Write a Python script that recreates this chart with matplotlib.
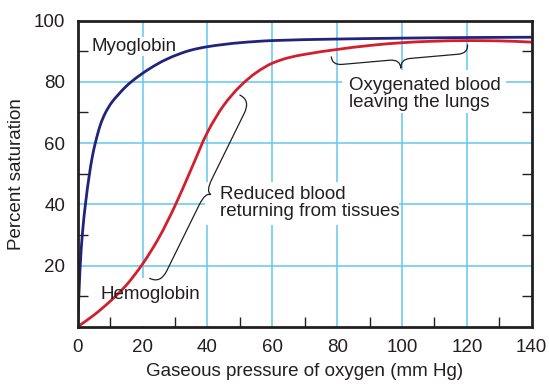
import numpy as np
import matplotlib
matplotlib.use("Agg")
import matplotlib.pyplot as plt
from matplotlib.path import Path
from matplotlib.patches import PathPatch, Rectangle

plt.rcParams['font.family'] = ['Liberation Sans', 'DejaVu Sans']

# Oxygen dissociation curves (partial pressure in mm Hg -> % saturation)
myo_po2 = [0, 0.7, 1.5, 2.5, 3.5, 4.5, 5.5, 7, 8.5, 10.5, 12.5, 14.5, 16.6, 20,
           22, 25, 27, 31.5, 35, 40, 50, 60, 80, 100, 120, 140]
myo_sat = [0, 18.5, 31, 41, 49, 55.5, 60.3, 66, 69.8, 73.3, 75.8, 78.1, 80.1, 82.8,
           84.2, 86.1, 87.2, 89.2, 90.4, 91.5, 92.8, 93.5, 94.0, 94.3, 94.5, 94.6]

hb_po2 = [0, 5, 10, 15, 20, 25, 30, 35, 40, 45, 50, 55, 60, 65, 70, 80, 90, 100,
          110, 120, 130, 140]
hb_sat = [0, 3.8, 8.3, 13.6, 20.5, 29, 39.5, 51.5, 63.5, 72.3, 78.5, 83, 86.1, 87.9,
          89.0, 90.6, 91.9, 92.8, 93.3, 93.5, 93.4, 93.0]

x_major = [0, 20, 40, 60, 80, 100, 120, 140]
x_minor = [10, 30, 50, 70, 90, 110, 130]
y_major = [20, 40, 60, 80, 100]
y_minor = [10, 30, 50, 70, 90]

INK = '#231f20'
GRID = '#62c8f0'
BLUE = '#22237a'
RED = '#d21f2b'
FS = 13.5

fig = plt.figure(figsize=(5.49, 3.84), dpi=100)
W, H = 549, 384
L, R, T, B = 77.7, 531.7, 20.7, 326.7
ax = fig.add_axes([L / W, (H - B) / H, (R - L) / W, (B - T) / H])
ax.set_xlim(0, 140)
ax.set_ylim(0, 100)

# grid
for gx in [20, 40, 60, 80, 100, 120]:
    ax.axvline(gx, color=GRID, lw=1.1, zorder=0.5)
for gy in [20, 40, 60, 80]:
    ax.axhline(gy, color=GRID, lw=1.1, zorder=0.5)

# ticks
ax.set_xticks(x_major)
ax.set_xticks(x_minor, minor=True)
ax.set_yticks(y_major)
ax.set_yticks(y_minor, minor=True)
ax.tick_params(which='major', length=0, labelsize=FS, labelcolor=INK)
ax.tick_params(axis='x', which='major', pad=9)
ax.tick_params(axis='y', which='major', pad=9)
ax.tick_params(which='minor', direction='in', length=7, width=1.0, color=INK,
               left=True, right=True, bottom=True, top=False)
for s in ax.spines.values():
    s.set_color(INK)
    s.set_linewidth(2.0)

ax.set_xlabel('Gaseous pressure of oxygen (mm Hg)', fontsize=FS, color=INK)
ax.set_ylabel('Percent saturation', fontsize=FS, color=INK)
ax.xaxis.set_label_coords(0.5, -0.118)
ax.yaxis.set_label_coords(-0.116, 0.5)


def smooth_line(xs, ys, **kw):
    """Draw a monotone cubic (Fritsch-Carlson) curve through the points."""
    x = np.asarray(xs, float)
    y = np.asarray(ys, float)
    h = np.diff(x)
    delta = np.diff(y) / h
    m = np.zeros_like(x)
    m[0], m[-1] = delta[0], delta[-1]
    for i in range(1, len(x) - 1):
        if delta[i - 1] * delta[i] <= 0:
            m[i] = 0
        else:
            w1 = 2 * h[i] + h[i - 1]
            w2 = h[i] + 2 * h[i - 1]
            m[i] = (w1 + w2) / (w1 / delta[i - 1] + w2 / delta[i])
    verts = [(x[0], y[0])]
    codes = [Path.MOVETO]
    for i in range(len(x) - 1):
        verts += [(x[i] + h[i] / 3, y[i] + m[i] * h[i] / 3),
                  (x[i + 1] - h[i] / 3, y[i + 1] - m[i + 1] * h[i] / 3),
                  (x[i + 1], y[i + 1])]
        codes += [Path.CURVE4] * 3
    ax.add_patch(PathPatch(Path(verts, codes), facecolor='none', **kw))


smooth_line(hb_po2, hb_sat, edgecolor=RED, lw=2.0, zorder=2)
smooth_line(myo_po2, myo_sat, edgecolor=BLUE, lw=2.0, zorder=2.1)

# white knock-out areas behind the labels
for (x0, y0, x1, y1) in [(3.6, 88.5, 30.0, 94.8),
                         (6.0, 0.3, 38.0, 16.0),
                         (39.2, 33.2, 99.2, 47.3),
                         (81.6, 69.8, 132.1, 83.9)]:
    ax.add_patch(Rectangle((x0, y0), x1 - x0, y1 - y0, facecolor='white',
                           edgecolor='none', zorder=1))

ax.text(4.3, 91.7, 'Myoglobin', fontsize=FS, color=INK, va='center', zorder=3)
ax.text(7.1, 10.4, 'Hemoglobin', fontsize=FS, color=INK, va='center', zorder=3)
ax.text(43.8, 40.4, 'Reduced blood\nreturning from tissues', fontsize=FS,
        color=INK, va='center', linespacing=1.05, zorder=3)
ax.text(83.8, 76.1, 'Oxygenated blood\nleaving the lungs', fontsize=FS,
        color=INK, va='center', linespacing=1.05, zorder=3)


def brace(p1, p2, h, depth):
    """Curly brace between two data points; tip on the clockwise side (pixels)."""
    a = ax.transData.transform(p1)
    b = ax.transData.transform(p2)
    d = b - a
    ln = np.hypot(*d)
    u = d / ln
    n = np.array([u[1], -u[0]])
    r = min(h * 1.2, ln / 4)

    def P(s, t):
        return a + u * s + n * t

    m = ln / 2
    verts = [P(0, 0), P(0, h), P(r, h),
             P(m - r, h), P(m, h), P(m, depth),
             P(m, h), P(m + r, h),
             P(ln - r, h), P(ln, h), P(ln, 0)]
    codes = [Path.MOVETO, Path.CURVE3, Path.CURVE3,
             Path.LINETO, Path.CURVE3, Path.CURVE3,
             Path.CURVE3, Path.CURVE3,
             Path.LINETO, Path.CURVE3, Path.CURVE3]
    verts = ax.transData.inverted().transform(np.array(verts))
    ax.add_patch(PathPatch(Path(verts, codes), facecolor='none',
                           edgecolor=INK, lw=0.9, zorder=3, capstyle='round'))


brace((78.2, 88.2), (120.2, 92.1), 8.5, 17.5)
brace((22.2, 15.8), (50.0, 75.7), 12, 18)

fig.savefig('out.png', dpi=100)
